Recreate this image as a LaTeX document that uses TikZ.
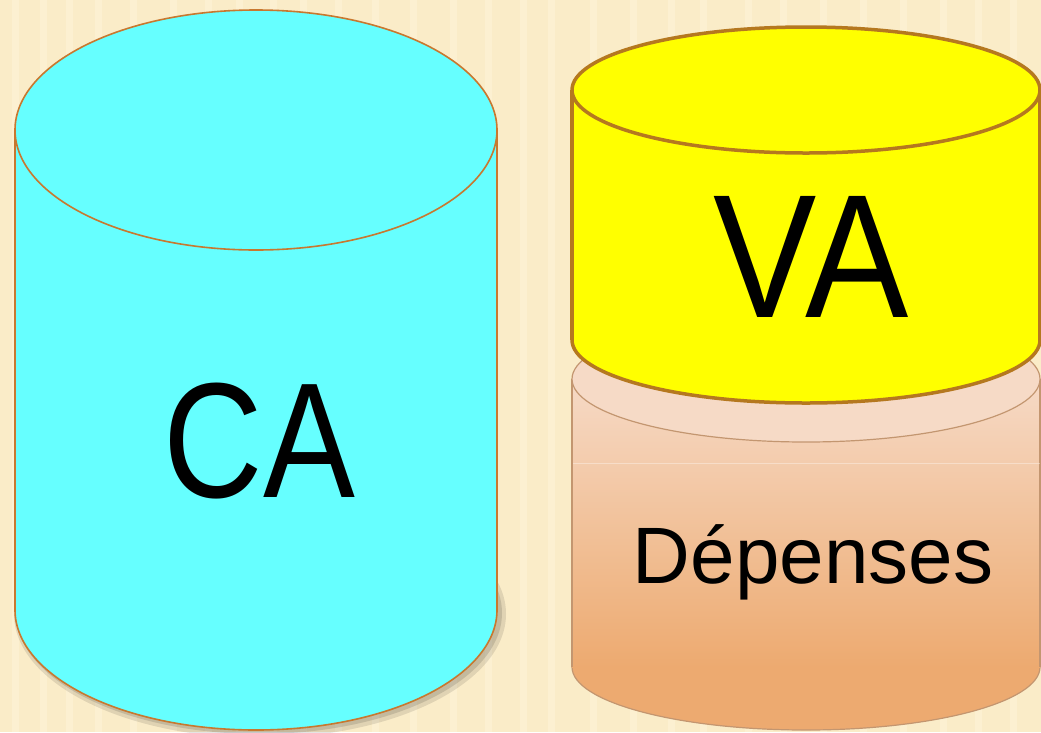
\documentclass[tikz,border=0pt]{standalone}
\usepackage{fontspec}
\setmainfont{Liberation Sans}
\definecolor{bgcol}{HTML}{FAECC8}
\definecolor{stripecol}{HTML}{FFF6DC}
\definecolor{cacol}{HTML}{66FFFF}
\definecolor{castroke}{HTML}{C8782F}
\definecolor{vacol}{HTML}{FFFF00}
\definecolor{vastroke}{HTML}{B5781F}
\definecolor{deptop}{HTML}{F6DAC6}
\definecolor{depbot}{HTML}{EDAA70}
\definecolor{depstroke}{HTML}{C39670}
\tikzset{
  lbl/.style={inner sep=0pt, anchor=base, text=black},
}
\begin{document}
\begin{tikzpicture}[x=1pt,y=-1pt]
\useasboundingbox (0,0) rectangle (1041,732);
\fill[bgcol] (0,0) rectangle (1041,732);
% faint wood stripes
\foreach \xx in {12,40,66,95,130,170,205,236,270,300,335,372,410,450,485,520,548,590,630,668,700,745,780,820,860,900,940,975,1010}{
  \fill[stripecol, opacity=0.45] (\xx,0) rectangle ++(7,732);
}
% ---------- CA cylinder ----------
\fill[black, opacity=0.10] (260,614) ellipse [x radius=246pt, y radius=124pt];
\fill[black, opacity=0.12] (259,613) ellipse [x radius=243pt, y radius=121pt];
\filldraw[fill=cacol, draw=castroke, line width=1.6pt] (256,610) ellipse [x radius=241pt, y radius=120pt];
\fill[cacol] (15,130) rectangle (497,610);
\draw[castroke, line width=1.6pt] (15,130) -- (15,610) (497,130) -- (497,610);
\filldraw[fill=cacol, draw=castroke, line width=1.6pt] (256,130) ellipse [x radius=241pt, y radius=120pt];
\node[lbl, font=\fontsize{164}{164}\selectfont] (ca) at (259.5,497) {\scalebox{0.84}[1]{CA}};
% ---------- Dépenses cylinder ----------
\filldraw[fill=depbot, draw=depstroke, line width=1.2pt] (806,667) ellipse [x radius=234pt, y radius=63pt];
\shade[top color=deptop, bottom color=depbot] (572,379) rectangle (1040,667);
\draw[depstroke, line width=1.2pt] (572,379) -- (572,667) (1040,379) -- (1040,667);
\filldraw[fill=deptop, draw=depstroke, line width=1.2pt] (806,379) ellipse [x radius=234pt, y radius=63pt];
\draw[white, opacity=0.35, line width=0.8pt] (573,463) -- (1040,463);
\node[lbl, font=\fontsize{80}{80}\selectfont] (dep) at (813,583) {Dépenses};
% ---------- VA cylinder ----------
\filldraw[fill=vacol, draw=vastroke, line width=3.5pt] (806,340) ellipse [x radius=234pt, y radius=63pt];
\fill[vacol] (572,90) rectangle (1040,340);
\draw[vastroke, line width=3.5pt] (572,90) -- (572,340) (1040,90) -- (1040,340);
\filldraw[fill=vacol, draw=vastroke, line width=3.5pt] (806,90) ellipse [x radius=234pt, y radius=63pt];
\node[lbl, font=\fontsize{176}{176}\selectfont] (va) at (811.5,317) {\scalebox{0.88}[1]{VA}};
\end{tikzpicture}
\end{document}
